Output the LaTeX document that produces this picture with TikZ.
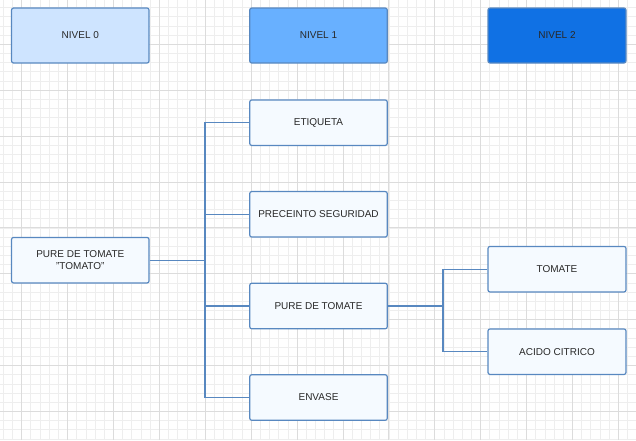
\documentclass[tikz,border=0pt]{standalone}
\usepackage{fontspec}
\setmainfont{Liberation Sans}
\usetikzlibrary{positioning}

\definecolor{gridminor}{RGB}{238,238,238}
\definecolor{gridmajor}{RGB}{220,220,220}
\definecolor{boxline}{RGB}{88,136,192}
\definecolor{levelzero}{RGB}{206,228,255}
\definecolor{levelone}{RGB}{104,176,255}
\definecolor{leveltwo}{RGB}{16,113,228}
\definecolor{itemfill}{RGB}{245,250,255}
\definecolor{boxtext}{RGB}{40,40,40}

\tikzset{
    item/.style={shape=rectangle, draw=boxline, line width=1.2pt,
        rounded corners=2pt, fill=itemfill, text=boxtext,
        minimum width=137.5pt, minimum height=45.5pt, inner sep=0pt,
        font=\fontsize{10}{12.4}\selectfont, align=center},
    level/.style={item, minimum height=55pt},
    link/.style={draw=boxline, line width=1.2pt}
}

\begin{document}
\begin{tikzpicture}[x=1pt, y=-1pt]
    \useasboundingbox (0,0) rectangle (636,440);
    % background grid
    \foreach \i in {-2,...,67}
        \draw[gridminor, line width=0.8pt] ({21.7+9.18*(\i)},0) -- ({21.7+9.18*(\i)},440);
    \foreach \j in {-4,...,44}
        \draw[gridminor, line width=0.8pt] (0,{44.3+9.18*(\j)}) -- (636,{44.3+9.18*(\j)});
    \foreach \i in {0,...,13}
        \draw[gridmajor, line width=1pt] ({21.7+45.9*(\i)},0) -- ({21.7+45.9*(\i)},440);
    \foreach \j in {-1,...,9}
        \draw[gridmajor, line width=1pt] (0,{44.3+45.9*(\j)}) -- (636,{44.3+45.9*(\j)});

    % level headers
    \node [level, fill=levelzero] (nivel0) at (80.3,35.5) {NIVEL 0};
    \node [level, fill=levelone] (nivel1) at (318.5,35.5) {NIVEL 1};
    \node [level, fill=leveltwo, minimum width=138pt] (nivel2) at (557,35.5) {NIVEL 2};

    % items
    \node [item] (producto) at (80.3,260.2) {PURE DE TOMATE\\"TOMATO"};
    \node [item] (etiqueta) at (318.5,122.7) {ETIQUETA};
    \node [item] (precinto) at (318.5,214.3) {PRECEINTO SEGURIDAD};
    \node [item] (pure) at (318.5,306) {PURE DE TOMATE};
    \node [item] (envase) at (318.5,397.5) {ENVASE};
    \node [item, minimum width=138pt] (tomate) at (557,269.2) {TOMATE};
    \node [item, minimum width=138pt] (acido) at (557,351.7) {ACIDO CITRICO};

    % connectors
    \coordinate (bus1) at (205,0);
    \coordinate (bus2) at (443,0);
    \draw[link] (producto.east) -- (producto.east -| bus1);
    \draw[link] (etiqueta.west) -| (bus1 |- envase.west) -- (envase.west);
    \draw[link] (precinto.west) -- (precinto.west -| bus1);
    \draw[link] (pure.west) -- (pure.west -| bus1);
    \draw[link] (pure.east) -- (pure.east -| bus2);
    \draw[link] (tomate.west) -| (bus2 |- acido.west) -- (acido.west);
\end{tikzpicture}
\end{document}
